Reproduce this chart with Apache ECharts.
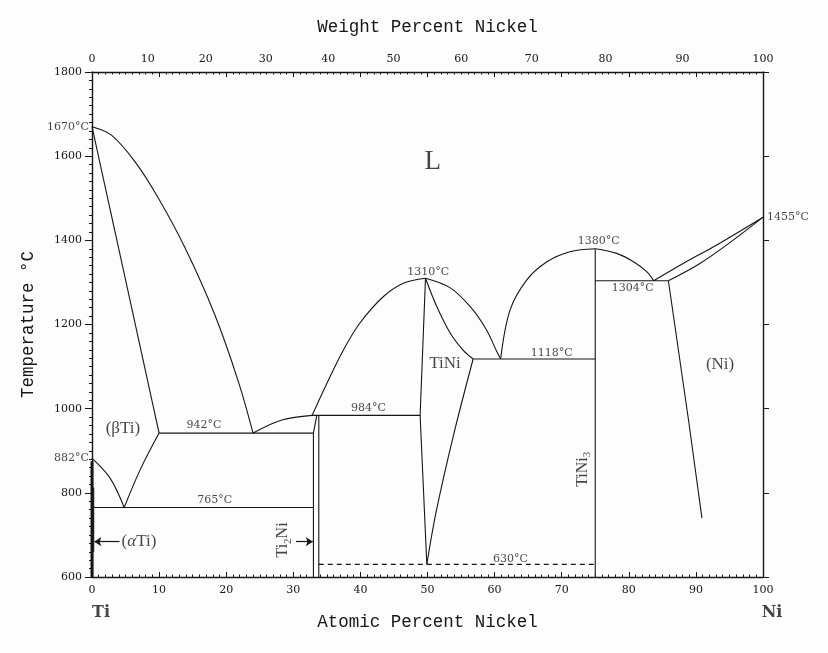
<!DOCTYPE html>
<html>
<head>
<meta charset="utf-8">
<script src="https://cdn.jsdelivr.net/npm/echarts@6/dist/echarts.min.js"></script>
<style>
  html, body { margin: 0; padding: 0; background: #fdfdfd; }
  #chart { width: 828px; height: 653px; }
</style>
</head>
<body>
<div id="chart"></div>
<script>
// ---- Ti–Ni phase diagram: compositions in atomic % Ni, temperatures in °C ----

const atomicTicks = [0, 10, 20, 30, 40, 50, 60, 70, 80, 90, 100];
const weightTicks = [0, 10, 20, 30, 40, 50, 60, 70, 80, 90, 100];
const tempTicks = [600, 800, 1000, 1200, 1400, 1600, 1800];

// Phase boundaries as [at.% Ni, T °C]
const liquidusTi   = [[0, 1670], [2.9, 1650], [6.4, 1587], [9.9, 1500], [13.9, 1381], [18.3, 1223], [21.8, 1065], [24.0, 942]];
const solidusBeta  = [[0, 1670], [10.0, 942]];
const eutectic942  = [[10.0, 942], [33.0, 942]];
const liquidusE1   = [[24.0, 942], [28.3, 973], [32.8, 984]];
const peritectic984 = [[32.8, 984], [48.9, 984]];
const ti2niLeft    = [[33.0, 600], [33.0, 942]];
const ti2niSlope   = [[33.0, 942], [33.5, 984]];
const ti2niRight   = [[33.8, 600], [33.8, 984]];
const liquidusTiNiL = [[32.8, 984], [35.0, 1060], [37.45, 1139], [39.9, 1203], [43.4, 1266], [46.4, 1298], [49.7, 1310]];
const liquidusTiNiR = [[49.7, 1310], [53.4, 1287], [56.5, 1240], [58.8, 1187], [60.2, 1140], [60.9, 1118]];
const tiniLeft     = [[49.7, 1310], [48.9, 984], [49.9, 630]];
const tiniSolidusR = [[49.7, 1310], [51.4, 1242], [53.4, 1179], [55.3, 1139], [56.8, 1118]];
const tiniSolvusR  = [[56.8, 1118], [53.8, 932], [51.3, 756], [49.9, 630]];
const eutectic1118 = [[56.8, 1118], [75.0, 1118]];
const liquidusNi3L = [[60.9, 1118], [62.3, 1234], [64.8, 1306], [67.8, 1349], [71.2, 1373], [75.0, 1380]];
const liquidusNi3R = [[75.0, 1380], [78.2, 1369], [80.7, 1349], [82.7, 1325], [83.7, 1304]];
const tini3Line    = [[75.0, 600], [75.0, 1380]];
const eutectic1304 = [[75.0, 1304], [85.9, 1304]];
const liquidusNi   = [[83.7, 1304], [88.1, 1345], [93.1, 1389], [100, 1455]];
const solidusNi    = [[85.9, 1304], [90.6, 1345], [95.6, 1401], [100, 1455]];
const solvusNi     = [[85.9, 1304], [88.9, 973], [90.9, 740]];
const eutectoid630 = [[33.8, 630], [74.9, 630]];
const eutectoid765 = [[0.3, 765], [33.0, 765]];
const transusAlpha = [[0, 882], [2.7, 835], [4.8, 765]];
const solvusBeta   = [[4.8, 765], [7.15, 854], [10.0, 942]];
const solvusAlpha  = [[0.25, 812], [0.25, 660]];
const alphaTiEdge  = [[0, 600], [0, 875]];

// Annotations
const tempNotes = [
  ['942°C', 16.7, 960], ['765°C', 18.3, 783], ['984°C', 41.2, 1001],
  ['1310°C', 50.1, 1325], ['1118°C', 68.5, 1133], ['1380°C', 75.5, 1397],
  ['1304°C', 80.6, 1286], ['630°C', 62.35, 642]
];
const edgeNotesLeft = [['1670°C', 0, 1670], ['882°C', 0, 882]];
const edgeNotesRight = [['1455°C', 100, 1455]];
const phaseNotes = [['(βTi)', 4.6, 953], ['TiNi', 52.6, 1108], ['(Ni)', 93.6, 1106]];
const liquidNote = [['L', 50.8, 1587]];
const alphaNote = [['(αTi)', 7.0, 684]];
const ti2niNote = [['Ti2Ni', 28.5, 688]];
const tini3Note = [['TiNi3', 73.1, 856]];
const elementNotes = [['Ti', 0, 600], ['Ni', 100, 600]];
const alphaArrow = [[4.1, 684], [0.35, 684]];
const ti2niArrow = [[30.4, 684], [32.9, 684]];

// Weight % Ni -> atomic % Ni (Ti 47.867, Ni 58.693)
const M_TI = 47.867, M_NI = 58.693;
function wtToAt(w) {
  if (w <= 0) return 0;
  if (w >= 100) return 100;
  const n = w / M_NI, t = (100 - w) / M_TI;
  return 100 * n / (n + t);
}
function atToWt(a) {
  const n = a * M_NI, t = (100 - a) * M_TI;
  return 100 * n / (n + t);
}

const INK = '#161616';
const SERIF = 'DejaVu Serif';
const TITLE_FONT = 'Liberation Mono';

function boundary(data, smooth, extra) {
  return Object.assign({
    type: 'line', data: data, xAxisIndex: 0, yAxisIndex: 0,
    showSymbol: false, symbol: 'none', smooth: smooth ? 0.35 : false,
    lineStyle: { color: INK, width: 1.1 }, silent: true, animation: false, z: 3
  }, extra || {});
}

function notes(list, label) {
  return {
    type: 'scatter', xAxisIndex: 0, yAxisIndex: 0, clip: false,
    symbolSize: 0, silent: true, animation: false, z: 5,
    data: list.map(d => ({ value: [d[1], d[2]], name: d[0] })),
    label: Object.assign({ show: true, position: 'inside', color: INK,
      formatter: p => p.name }, label)
  };
}

function arrow(pts) {
  return {
    type: 'line', xAxisIndex: 0, yAxisIndex: 0, data: [], silent: true, animation: false,
    markLine: {
      silent: true, animation: false, symbol: ['none', 'arrow'], symbolSize: [7, 7],
      label: { show: false }, lineStyle: { color: INK, width: 1.2, type: 'solid' },
      data: [[{ coord: pts[0] }, { coord: pts[1] }]]
    }
  };
}

const axisLabelStyle = { fontFamily: SERIF, fontSize: 11, color: INK };
const titleStyle = { fontFamily: TITLE_FONT, fontSize: 17.5, color: INK };

const chart = echarts.init(document.getElementById('chart'));
chart.setOption({
  backgroundColor: '#fdfdfd',
  animation: false,
  grid: { left: 92, right: 65, top: 72, bottom: 76, containLabel: false },
  xAxis: [
    { // atomic percent, bottom
      type: 'value', position: 'bottom', min: 0, max: 100, interval: 10,
      name: 'Atomic Percent Nickel', nameLocation: 'middle', nameGap: 36,
      nameTextStyle: titleStyle,
      axisLine: { show: true, onZero: false, lineStyle: { color: INK, width: 1.4 } },
      axisTick: { show: true, inside: true, length: 5, lineStyle: { color: INK } },
      minorTick: { show: true, splitNumber: 10, length: 2.5, lineStyle: { color: INK } },
      axisLabel: Object.assign({ margin: 8, customValues: atomicTicks,
        formatter: v => String(v) }, axisLabelStyle),
      splitLine: { show: false }
    },
    { // atomic tick marks along the top edge
      type: 'value', position: 'top', min: 0, max: 100, interval: 10,
      axisLine: { show: true, onZero: false, lineStyle: { color: INK, width: 1.4 } },
      axisTick: { show: true, inside: true, length: 5, lineStyle: { color: INK } },
      minorTick: { show: true, splitNumber: 10, length: 2.5, lineStyle: { color: INK } },
      axisLabel: { show: false }, splitLine: { show: false }
    },
    { // weight percent labels, top
      type: 'value', position: 'top', min: 0, max: 100,
      name: 'Weight Percent Nickel', nameLocation: 'middle', nameGap: 36,
      nameTextStyle: titleStyle,
      axisLine: { show: false }, axisTick: { show: false },
      axisLabel: Object.assign({ margin: 7, customValues: weightTicks.map(wtToAt),
        formatter: v => String(Math.round(atToWt(v))) }, axisLabelStyle),
      splitLine: { show: false }
    }
  ],
  yAxis: [
    {
      type: 'value', position: 'left', min: 600, max: 1800, interval: 200,
      name: 'Temperature °C', nameLocation: 'middle', nameGap: 55, nameRotate: 90,
      nameTextStyle: titleStyle,
      axisLine: { show: true, onZero: false, lineStyle: { color: INK, width: 1.4 } },
      axisTick: { show: true, inside: false, length: 7, lineStyle: { color: INK } },
      minorTick: { show: true, splitNumber: 10, length: 3, lineStyle: { color: INK } },
      axisLabel: Object.assign({ margin: 10, customValues: tempTicks,
        formatter: v => String(v) }, axisLabelStyle),
      splitLine: { show: false }
    },
    { // right edge: major ticks outward
      type: 'value', position: 'right', min: 600, max: 1800, interval: 200, offset: 0,
      axisLine: { show: true, onZero: false, lineStyle: { color: INK, width: 1.4 } },
      axisTick: { show: true, inside: false, length: 6, lineStyle: { color: INK } },
      axisLabel: { show: false }, splitLine: { show: false }
    },
    { // right edge: minor ticks inward
      type: 'value', position: 'right', min: 600, max: 1800, interval: 200, offset: 0,
      axisLine: { show: false },
      axisTick: { show: false, inside: true },
      minorTick: { show: true, splitNumber: 10, length: 3, lineStyle: { color: INK } },
      axisLabel: { show: false }, splitLine: { show: false }
    }
  ],
  series: [
    boundary(liquidusTi, true),
    boundary(solidusBeta, false),
    boundary(eutectic942, false),
    boundary(liquidusE1, true),
    boundary(peritectic984, false),
    boundary(ti2niLeft, false),
    boundary(ti2niSlope, false),
    boundary(ti2niRight, false),
    boundary(liquidusTiNiL, true),
    boundary(liquidusTiNiR, true),
    boundary(tiniLeft, false),
    boundary(tiniSolidusR, true),
    boundary(tiniSolvusR, true),
    boundary(eutectic1118, false),
    boundary(liquidusNi3L, true),
    boundary(liquidusNi3R, true),
    boundary(tini3Line, false),
    boundary(eutectic1304, false),
    boundary(liquidusNi, true),
    boundary(solidusNi, true),
    boundary(solvusNi, false),
    boundary(eutectoid630, false, { lineStyle: { color: INK, width: 1.1, type: [5, 4] } }),
    boundary(eutectoid765, false),
    boundary(transusAlpha, true),
    boundary(solvusBeta, true),
    boundary(solvusAlpha, false),
    boundary(alphaTiEdge, false, { lineStyle: { color: INK, width: 3 } }),
    arrow(alphaArrow),
    arrow(ti2niArrow),
    notes(tempNotes, { fontFamily: SERIF, fontSize: 11 }),
    notes(edgeNotesLeft, { fontFamily: SERIF, fontSize: 11, position: 'left', distance: 3 }),
    notes(edgeNotesRight, { fontFamily: SERIF, fontSize: 11, position: 'right', distance: 4 }),
    notes(phaseNotes, { fontFamily: 'Liberation Serif', fontSize: 17 }),
    notes(liquidNote, { fontFamily: 'Liberation Serif', fontSize: 27 }),
    notes(alphaNote, {
      formatter: () => '({a|α}Ti)',
      fontFamily: 'Liberation Serif', fontSize: 17,
      rich: { a: { fontFamily: 'Liberation Serif', fontStyle: 'italic', fontSize: 17, color: INK } }
    }),
    notes(ti2niNote, {
      formatter: () => '{n|Ti}{s|2}{n|Ni}', rotate: 90,
      rich: {
        n: { fontFamily: 'Liberation Serif', fontSize: 16, color: INK, lineHeight: 20, verticalAlign: 'middle' },
        s: { fontFamily: 'Liberation Serif', fontSize: 11, color: INK, lineHeight: 10, verticalAlign: 'bottom' }
      }
    }),
    notes(tini3Note, {
      formatter: () => '{n|TiNi}{s|3}', rotate: 90,
      rich: {
        n: { fontFamily: 'Liberation Serif', fontSize: 16, color: INK, lineHeight: 20, verticalAlign: 'middle' },
        s: { fontFamily: 'Liberation Serif', fontSize: 11, color: INK, lineHeight: 10, verticalAlign: 'bottom' }
      }
    }),
    notes(elementNotes, { fontFamily: SERIF, fontSize: 16, fontWeight: 'bold', offset: [9, 36] })
  ]
});
</script>
</body>
</html>
